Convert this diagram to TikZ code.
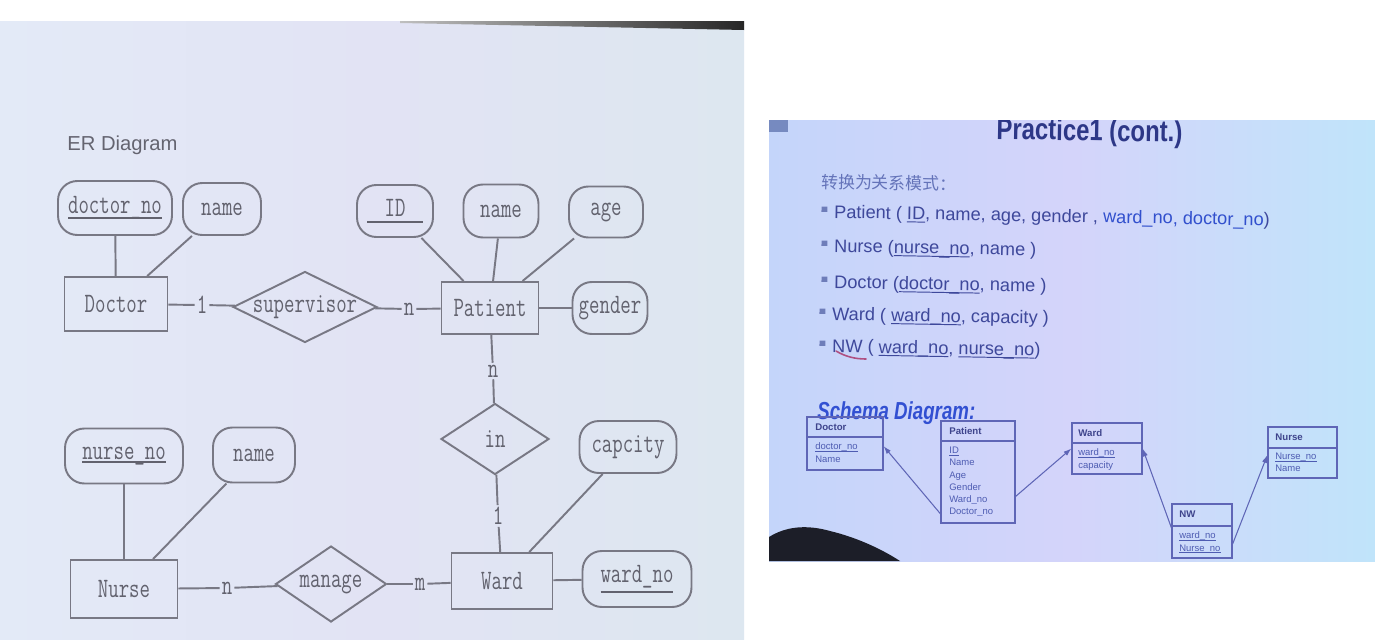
\documentclass[tikz,border=0pt]{standalone}
\usepackage{fontspec}
\setmainfont{Liberation Sans}
\newfontfamily\cjkfont{Noto Sans CJK SC}
\usepackage{graphicx}
\usepackage{xcolor}
\usetikzlibrary{shapes.geometric}
\usetikzlibrary{arrows.meta}

\definecolor{erline}{RGB}{120,120,132}
\definecolor{ertext}{RGB}{98,98,110}
\definecolor{ertitlecol}{RGB}{100,100,112}
\definecolor{erbgl}{RGB}{227,234,247}
\definecolor{erbgm}{RGB}{226,227,244}
\definecolor{erbgr}{RGB}{221,231,240}
\definecolor{slidel}{RGB}{196,213,250}
\definecolor{slidem}{RGB}{212,212,250}
\definecolor{slider}{RGB}{192,228,250}
\definecolor{slideicon}{RGB}{118,138,192}
\definecolor{slidetext}{RGB}{62,72,155}
\definecolor{fkblue}{RGB}{50,80,205}
\definecolor{bulcol}{RGB}{110,125,185}
\definecolor{cjkcol}{RGB}{100,115,185}
\definecolor{titlecol}{RGB}{45,55,135}
\definecolor{schemacol}{RGB}{50,80,210}
\definecolor{tblline}{RGB}{95,102,182}
\definecolor{tbltext}{RGB}{78,92,178}
\definecolor{tblhead}{RGB}{62,68,140}
\definecolor{nwmark}{RGB}{175,80,130}
\definecolor{hair}{RGB}{28,30,40}

\newcommand{\erfont}{\ttfamily\fontsize{16}{16}\selectfont}
\newcommand{\ertxt}[1]{\makebox[0pt]{\scalebox{0.72}[1]{#1}}}
\newsavebox{\erkeybox}
% key underline: depth, thickness, text
\newcommand{\keyline}[3]{\sbox{\erkeybox}{#3}\rlap{\rule[-#1]{\wd\erkeybox}{#2}}\usebox{\erkeybox}}
\newcommand{\erkey}[2][3pt]{\keyline{#1}{1.1pt}{#2}}
\newcommand{\slkey}[1]{\keyline{1.6pt}{0.55pt}{#1}}
\newcommand{\tbkey}[1]{\keyline{1.1pt}{0.35pt}{#1}}
\newcommand{\sbul}{{\color{bulcol}\rule[3.5pt]{3.3pt}{3pt}}\hspace{4pt}}

\begin{document}
\begin{tikzpicture}[x=0.02cm,y=-0.02cm,
	entity/.style={rectangle, draw=erline, line width=1.1pt, inner sep=0pt, font=\erfont, text=ertext},
	attr/.style={entity, rounded corners=11pt},
	rel/.style={diamond, draw=erline, line width=1.1pt, inner sep=0pt, font=\erfont, text=ertext},
	card/.style={inner sep=1pt, font=\erfont, text=ertext},
	link/.style={every edge/.style={draw=erline, line width=1.1pt}},
	row/.style={anchor=base west, inner sep=0pt, rotate=-1, font=\fontsize{10.35}{12}\selectfont, text=slidetext},
	tbl/.style={rectangle, draw=tblline, line width=0.7pt, inner sep=0pt},
	tblsep/.style={draw=tblline, line width=0.7pt},
	thead/.style={anchor=base west, inner sep=0pt, font=\bfseries\fontsize{5.5}{6}\selectfont, text=tblhead},
	tbody/.style={anchor=north west, inner sep=0pt, align=left, font=\fontsize{5.4}{7}\selectfont, text=tbltext},
	fk/.style={draw=tblline, line width=0.6pt, -{Latex[length=4.5pt,width=3pt]}}]
			
			\useasboundingbox (0,0) rectangle (1375,639);
			\fill[white] (0,0) rectangle (1375,639);
			
			% ER diagram photo
			\shade[left color=erbgl, right color=erbgr, middle color=erbgm] (0,21) rectangle (744,639);
			\shade[left color=black!25, right color=black!85] (400,21) -- (744,21) -- (744,30) -- (400,23) -- cycle;
			
			\node[anchor=base west, inner sep=0pt, font=\fontsize{11.5}{12}\selectfont, text=ertitlecol] (ertitle) at (67,150) {ER Diagram};
			
			% Doctor
			\node[entity, minimum width=2.06cm, minimum height=1.08cm] (doctor) at (116,304) {\ertxt{Doctor}};
			\node[attr, minimum width=2.28cm, minimum height=1.08cm] (doctorno) at (115,208) {\ertxt{\erkey[2.8pt]{doctor\_no}}};
			\node[attr, minimum width=1.56cm, minimum height=1.04cm] (dname) at (222,209) {\ertxt{name}};
			\node[rel, minimum width=2.88cm, minimum height=1.42cm] (supervisor) at (305,307) {\ertxt{supervisor}};
			
			% Patient
			\node[entity, minimum width=1.94cm, minimum height=1.04cm] (patient) at (490,308) {\ertxt{Patient}};
			\node[attr, minimum width=1.52cm, minimum height=1.04cm] (pid) at (395,211) {\ertxt{\erkey[3.4pt]{\makebox[2.75em]{ID}}}};
			\node[attr, minimum width=1.5cm, minimum height=1.06cm] (pname) at (501,211) {\ertxt{name}};
			\node[attr, minimum width=1.48cm, minimum height=1.02cm] (page) at (606,212) {\ertxt{age}};
			\node[attr, minimum width=1.5cm, minimum height=1.04cm] (pgender) at (610,308) {\ertxt{gender}};
			\node[rel, minimum width=2.16cm, minimum height=1.42cm] (inrel) at (495,439) {\ertxt{in}};
			
			% Ward
			\node[entity, minimum width=2.02cm, minimum height=1.12cm] (ward) at (502,581) {\ertxt{Ward}};
			\node[attr, minimum width=1.94cm, minimum height=1.04cm] (wcap) at (628,447) {\ertxt{capcity}};
			\node[attr, minimum width=2.18cm, minimum height=1.12cm] (wardno) at (637,579) {\ertxt{\erkey[5.6pt]{ward\_no}}};
			
			% Nurse
			\node[entity, minimum width=2.14cm, minimum height=1.16cm] (nurse) at (124,589) {\ertxt{Nurse}};
			\node[attr, minimum width=2.36cm, minimum height=1.1cm] (nurseno) at (124,456) {\ertxt{\erkey[1.8pt]{nurse\_no}}};
			\node[attr, minimum width=1.64cm, minimum height=1.1cm] (nname) at (254,455) {\ertxt{name}};
			\node[rel, minimum width=2.22cm, minimum height=1.52cm] (manage) at (331,584) {\ertxt{manage}};
			
			% cardinalities
			\node[card] (cds) at (202,305) {\scalebox{0.72}[1]{1}};
			\node[card] (csp) at (409,309) {\scalebox{0.72}[1]{n}};
			\node[card] (cpi) at (493,371) {\scalebox{0.72}[1]{n}};
			\node[card] (ciw) at (498,516) {\scalebox{0.72}[1]{1}};
			\node[card] (cnm) at (227,588) {\scalebox{0.72}[1]{n}};
			\node[card] (cmw) at (420,584) {\scalebox{0.72}[1]{m}};
			
			\path[link]
			(doctorno) edge (doctor)
			(dname) edge (doctor)
			(doctor) edge (cds)
			(cds) edge (supervisor)
			(supervisor) edge (csp)
			(csp) edge (patient)
			
			(pid) edge (patient)
			(pname) edge (patient)
			(page) edge (patient)
			(patient) edge (pgender)
			(patient) edge (cpi)
			(cpi) edge (inrel)
			(inrel) edge (ciw)
			(ciw) edge (ward)
			
			(wcap) edge (ward)
			(ward) edge (wardno)
			
			(nurseno) edge (nurse)
			(nname) edge (nurse)
			(nurse) edge (cnm)
			(cnm) edge (manage)
			(manage) edge (cmw)
			(cmw) edge (ward);
			
			% slide photo
			\begin{scope}
			\clip (769,120) rectangle (1375,561);
			\shade[left color=slidel, right color=slider, middle color=slidem] (769,120) rectangle (1375,561);
			\fill[slideicon] (769,120) rectangle (788,132);
			
			\node[anchor=base west, inner sep=0pt, rotate=-1, font=\bfseries\fontsize{17}{17}\selectfont, text=titlecol] (title) at (996,139) {\scalebox{0.8}[1]{Practice1 (cont.)}};
			\node[anchor=base west, inner sep=0pt, rotate=-1, font=\cjkfont\fontsize{9.6}{10}\selectfont, text=cjkcol] (cjk) at (821,188) {转换为关系模式：};
			
			\node[row] (rpatient) at (821,218) {\sbul Patient ( \slkey{ID}, name, age, gender , \textcolor{fkblue}{ward\_no, doctor\_no})};
			\node[row] (rnurse) at (821,252) {\sbul Nurse (\slkey{nurse\_no}, name )};
			\node[row] (rdoctor) at (821,288) {\sbul Doctor (\slkey{doctor\_no}, name )};
			\node[row] (rward) at (819,320) {\sbul Ward ( \slkey{ward\_no}, capacity )};
			\node[row] (rnw) at (819,352) {\sbul NW ( \slkey{ward\_no}, \slkey{nurse\_no})};
			\draw[nwmark, line width=0.9pt, line cap=round] (836,351) .. controls (846,357) and (856,359) .. (866,359);
			
			\node[anchor=base west, inner sep=0pt, font=\bfseries\itshape\fontsize{14}{14}\selectfont, text=schemacol] (schema) at (817,419) {\scalebox{0.76}[1]{Schema Diagram:}};
			
			% tables
			\node[tbl, minimum width=1.52cm, minimum height=1.06cm] (tdoc) at (845,443.5) {};
			\draw[tblsep] (tdoc.west |- 0,437) -- (tdoc.east |- 0,437);
			\node[thead] (tdoc-h) at (815,430.5) {Doctor};
			\node[tbody] (tdoc-b) at (815,442.6) {\tbkey{doctor\_no}\\Name};
			
			\node[tbl, minimum width=1.48cm, minimum height=2.04cm] (tpat) at (978,472) {};
			\draw[tblsep] (tpat.west |- 0,441) -- (tpat.east |- 0,441);
			\node[thead] (tpat-h) at (949,434.5) {Patient};
			\node[tbody] (tpat-b) at (949,446.6) {\tbkey{ID}\\Name\\Age\\Gender\\Ward\_no\\Doctor\_no};
			
			\node[tbl, minimum width=1.4cm, minimum height=1.02cm] (tward) at (1107,448.5) {};
			\draw[tblsep] (tward.west |- 0,443) -- (tward.east |- 0,443);
			\node[thead] (tward-h) at (1078,436.5) {Ward};
			\node[tbody] (tward-b) at (1078,448.6) {\tbkey{ward\_no}\\capacity};
			
			\node[tbl, minimum width=1.2cm, minimum height=1.08cm] (tnw) at (1202,531) {};
			\draw[tblsep] (tnw.west |- 0,526) -- (tnw.east |- 0,526);
			\node[thead] (tnw-h) at (1179,517.5) {NW};
			\node[tbody] (tnw-b) at (1179,531.6) {\tbkey{ward\_no}\\\tbkey{Nurse\_no}};
			
			\node[tbl, minimum width=1.38cm, minimum height=1.02cm] (tnurse) at (1302.5,452.5) {};
			\draw[tblsep] (tnurse.west |- 0,448) -- (tnurse.east |- 0,448);
			\node[thead] (tnurse-h) at (1275,440.5) {Nurse};
			\node[tbody] (tnurse-b) at (1275,452.6) {\tbkey{Nurse\_no}\\Name};
			
			\draw[fk] (tpat.228) -- (tdoc.-4);
			\draw[fk] (tpat.-33) -- (tward.west);
			\draw[fk] (tnw.174) -- (tward.east);
			\draw[fk] (tnw.-23) -- (tnurse.184);
			
			\fill[hair] (769,537) .. controls (785,527) and (805,524) .. (830,531) .. controls (855,537) and (880,548) .. (900,561) -- (769,561) -- cycle;
			\end{scope}
			
		\end{tikzpicture}
\end{document}
